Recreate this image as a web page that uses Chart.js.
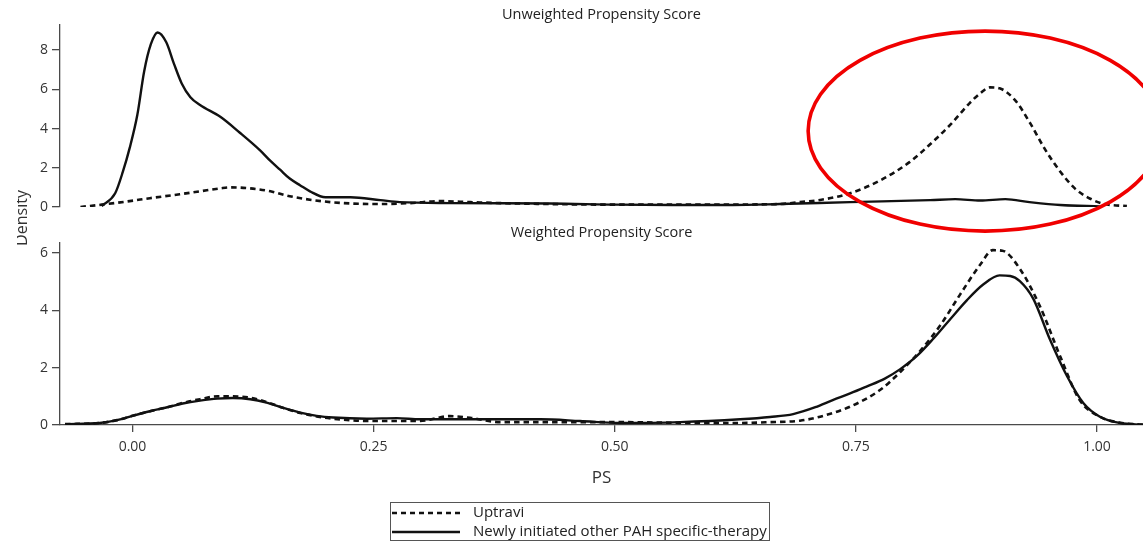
<!DOCTYPE html>
<html>
<head>
<meta charset="utf-8">
<script src="https://cdn.jsdelivr.net/npm/chart.js@4.4.1/dist/chart.umd.min.js"></script>
<style>
  html, body { margin: 0; padding: 0; background: #fff; overflow: hidden; }
  #wrap { position: relative; width: 1143px; height: 541px; background: #fff; }
  #wrap canvas { position: absolute; left: 0; top: 0; }
</style>
</head>
<body>
<div id="wrap">
  <canvas id="unweighted" width="1143" height="541"></canvas>
  <canvas id="weighted" width="1143" height="541"></canvas>
</div>
<script>
// ---- labels ----
const panelTitles = ['Unweighted Propensity Score', 'Weighted Propensity Score'];
const seriesNames = ['Uptravi', 'Newly initiated other PAH specific-therapy'];
const yAxisTitle = 'Density';
const xAxisTitle = 'PS';
const xTickValues = [0, 0.25, 0.5, 0.75, 1];
const xTickLabels = ['0.00', '0.25', '0.50', '0.75', '1.00'];
const unweightedYTicks = [0, 2, 4, 6, 8];
const weightedYTicks = [0, 2, 4, 6];

// ---- unweighted densities ----
const unweightedUptraviPS = [-0.054, -0.032, -0.003, 0.018, 0.049, 0.070, 0.091, 0.101, 0.122, 0.143, 0.163, 0.205, 0.257, 0.288, 0.319, 0.350, 0.381, 0.433, 0.501, 0.588, 0.671, 0.692, 0.713, 0.744, 0.775, 0.806, 0.827, 0.848, 0.868, 0.879, 0.889, 0.899, 0.915, 0.931, 0.946, 0.962, 0.977, 0.993, 1.008, 1.031];
const unweightedUptraviDensity = [0.0, 0.12, 0.3, 0.45, 0.65, 0.8, 0.95, 1.0, 0.95, 0.8, 0.55, 0.25, 0.15, 0.2, 0.3, 0.25, 0.2, 0.15, 0.12, 0.12, 0.15, 0.25, 0.36, 0.7, 1.35, 2.3, 3.2, 4.2, 5.3, 5.8, 6.1, 6.05, 5.45, 4.25, 2.95, 1.8, 0.95, 0.42, 0.15, 0.05];
const unweightedOtherPS = [-0.032, -0.018, -0.010, -0.003, 0.005, 0.012, 0.019, 0.026, 0.035, 0.043, 0.051, 0.060, 0.070, 0.091, 0.111, 0.132, 0.143, 0.153, 0.163, 0.174, 0.184, 0.200, 0.226, 0.257, 0.277, 0.329, 0.433, 0.501, 0.561, 0.622, 0.671, 0.744, 0.827, 0.853, 0.879, 0.905, 0.930, 0.962, 1.003];
const unweightedOtherDensity = [0.05, 0.7, 1.8, 3.0, 4.7, 6.9, 8.3, 8.9, 8.4, 7.3, 6.3, 5.6, 5.2, 4.6, 3.8, 2.9, 2.35, 1.9, 1.45, 1.1, 0.8, 0.5, 0.5, 0.35, 0.25, 0.2, 0.18, 0.12, 0.1, 0.1, 0.15, 0.25, 0.35, 0.4, 0.33, 0.4, 0.25, 0.1, 0.03];

// ---- weighted densities ----
const weightedUptraviPS = [-0.070, -0.034, -0.016, 0.001, 0.018, 0.036, 0.052, 0.070, 0.088, 0.104, 0.122, 0.139, 0.156, 0.174, 0.191, 0.208, 0.243, 0.274, 0.298, 0.329, 0.350, 0.381, 0.443, 0.505, 0.588, 0.630, 0.661, 0.692, 0.713, 0.744, 0.775, 0.796, 0.817, 0.837, 0.858, 0.879, 0.892, 0.902, 0.920, 0.941, 0.962, 0.982, 1.003, 1.024, 1.048];
const weightedUptraviDensity = [0.03, 0.07, 0.17, 0.33, 0.48, 0.62, 0.77, 0.9, 1.0, 1.0, 0.95, 0.8, 0.6, 0.42, 0.3, 0.22, 0.14, 0.14, 0.14, 0.31, 0.25, 0.1, 0.1, 0.1, 0.07, 0.07, 0.1, 0.15, 0.29, 0.64, 1.22, 1.85, 2.6, 3.45, 4.55, 5.6, 6.1, 6.08, 5.45, 4.13, 2.38, 0.87, 0.29, 0.08, 0.01];
const weightedOtherPS = [-0.070, -0.034, -0.016, 0.001, 0.018, 0.036, 0.052, 0.070, 0.088, 0.104, 0.122, 0.139, 0.156, 0.174, 0.191, 0.208, 0.243, 0.274, 0.298, 0.360, 0.423, 0.464, 0.505, 0.568, 0.630, 0.661, 0.685, 0.708, 0.726, 0.744, 0.761, 0.780, 0.796, 0.813, 0.830, 0.848, 0.865, 0.882, 0.899, 0.910, 0.920, 0.934, 0.951, 0.969, 0.986, 1.003, 1.024, 1.048];
const weightedOtherDensity = [0.03, 0.07, 0.17, 0.33, 0.48, 0.62, 0.75, 0.85, 0.92, 0.94, 0.9, 0.78, 0.6, 0.43, 0.32, 0.26, 0.22, 0.24, 0.2, 0.2, 0.2, 0.14, 0.07, 0.1, 0.2, 0.28, 0.38, 0.62, 0.87, 1.1, 1.34, 1.62, 1.95, 2.4, 3.0, 3.7, 4.35, 4.9, 5.22, 5.2, 5.02, 4.4, 3.0, 1.7, 0.76, 0.29, 0.07, 0.01];

// ---- shared scale ranges ----
const psMin = -0.0752, psMax = 1.0477;
const unweightedMax = 9.28, weightedMax = 6.35;

// highlighted region on the unweighted panel, in data units
const highlight = { ps: 0.884, density: 3.87, psRadius: 0.1835, densityRadius: 5.1 };

const FONT = "'Open Sans', 'DejaVu Sans', sans-serif";
Chart.defaults.font.family = FONT;
Chart.defaults.color = '#333';

const INK = '#111';
const AXIS = '#4a4a4a';

function points(xs, ys) {
  return xs.map((x, i) => ({ x, y: ys[i] }));
}

function densityLine(label, xs, ys, dashed) {
  return {
    label,
    data: points(xs, ys),
    borderColor: INK,
    backgroundColor: INK,
    borderWidth: dashed ? 2.6 : 2.4,
    borderDash: dashed ? [5.5, 4] : [],
    pointRadius: 0,
    pointHoverRadius: 0,
    cubicInterpolationMode: 'monotone',
    fill: false
  };
}

function densityAxis(max, tickValues) {
  return {
    type: 'linear',
    min: 0,
    max,
    afterBuildTicks: s => { s.ticks = tickValues.map(v => ({ value: v })); },
    afterFit: s => { s.width = 60; },
    border: { display: true, color: AXIS, width: 1.3 },
    grid: { drawOnChartArea: false, drawTicks: true, tickLength: 8, color: AXIS, lineWidth: 1.3 },
    ticks: { padding: 4, font: { size: 14 }, color: '#333' }
  };
}

function panelTitle(text, padTop, padBottom) {
  return {
    display: true,
    text,
    fullSize: false,
    color: '#222',
    font: { size: 14.5, weight: 'normal' },
    padding: { top: padTop, bottom: padBottom }
  };
}

// red ellipse drawn around the right-hand peak of the unweighted panel
const highlightPlugin = {
  id: 'highlightRing',
  afterDraw(chart) {
    const { ctx, scales: { x, y } } = chart;
    const cx = x.getPixelForValue(highlight.ps);
    const cy = y.getPixelForValue(highlight.density);
    const rx = x.getPixelForValue(highlight.ps + highlight.psRadius) - cx;
    const ry = cy - y.getPixelForValue(highlight.density + highlight.densityRadius);
    ctx.save();
    ctx.beginPath();
    ctx.ellipse(cx, cy, rx, ry, 0, 0, Math.PI * 2);
    ctx.strokeStyle = '#f00000';
    ctx.lineWidth = 3.6;
    ctx.stroke();
    ctx.restore();
  }
};

// shared y title and the boxed key under the weighted panel
const keyPlugin = {
  id: 'keyBox',
  afterDraw(chart) {
    const { ctx } = chart;
    ctx.save();
    // "Density" title between the panels
    ctx.save();
    ctx.beginPath();
    ctx.rect(17, 150, 40, 140);
    ctx.clip();
    ctx.translate(22.5, 218);
    ctx.rotate(-Math.PI / 2);
    ctx.font = '16px ' + FONT;
    ctx.fillStyle = '#333';
    ctx.textAlign = 'center';
    ctx.textBaseline = 'middle';
    ctx.fillText(yAxisTitle, 0, 0);
    ctx.restore();

    // key box
    const left = 390, top = 502, width = 379, height = 38;
    ctx.strokeStyle = '#555';
    ctx.lineWidth = 1;
    ctx.strokeRect(left + 0.5, top + 0.5, width, height);

    const rows = [
      { text: seriesNames[0], dashed: true, y: 513 },
      { text: seriesNames[1], dashed: false, y: 532 }
    ];
    ctx.font = '15px ' + FONT;
    ctx.textAlign = 'left';
    ctx.textBaseline = 'middle';
    for (const r of rows) {
      ctx.beginPath();
      ctx.setLineDash(r.dashed ? [5, 4] : []);
      ctx.strokeStyle = INK;
      ctx.lineWidth = 2.4;
      ctx.moveTo(392, r.y);
      ctx.lineTo(460, r.y);
      ctx.stroke();
      ctx.setLineDash([]);
      ctx.fillStyle = '#222';
      ctx.fillText(r.text, 473, r.y);
    }
    ctx.restore();
  }
};

// ---- unweighted panel ----
new Chart(document.getElementById('unweighted'), {
  type: 'line',
  data: {
    datasets: [
      densityLine(seriesNames[0], unweightedUptraviPS, unweightedUptraviDensity, true),
      densityLine(seriesNames[1], unweightedOtherPS, unweightedOtherDensity, false)
    ]
  },
  options: {
    responsive: false,
    animation: false,
    events: [],
    layout: { padding: { left: 0, right: 0, top: 0, bottom: 334 } },
    plugins: {
      legend: { display: false },
      tooltip: { enabled: false },
      title: panelTitle(panelTitles[0], 6.3, 1.3)
    },
    scales: {
      x: { type: 'linear', min: psMin, max: psMax, display: false },
      y: densityAxis(unweightedMax, unweightedYTicks)
    }
  },
  plugins: [highlightPlugin]
});

// ---- weighted panel ----
new Chart(document.getElementById('weighted'), {
  type: 'line',
  data: {
    datasets: [
      densityLine(seriesNames[0], weightedUptraviPS, weightedUptraviDensity, true),
      densityLine(seriesNames[1], weightedOtherPS, weightedOtherDensity, false)
    ]
  },
  options: {
    responsive: false,
    animation: false,
    events: [],
    layout: { padding: { left: 0, right: 0, top: 222.3, bottom: 36 } },
    plugins: {
      legend: { display: false },
      tooltip: { enabled: false },
      title: panelTitle(panelTitles[1], 2, 1.3)
    },
    scales: {
      x: {
        type: 'linear',
        min: psMin,
        max: psMax,
        position: 'bottom',
        afterBuildTicks: s => { s.ticks = xTickValues.map(v => ({ value: v })); },
        afterFit: s => { s.height = 80; },
        border: { display: true, color: AXIS, width: 1.3 },
        grid: { drawOnChartArea: false, drawTicks: true, tickLength: 7, color: AXIS, lineWidth: 1.3 },
        ticks: {
          padding: 6.6,
          font: { size: 14 },
          color: '#333',
          maxRotation: 0,
          autoSkip: false,
          callback: (v, i) => xTickLabels[i]
        },
        title: {
          display: true,
          text: xAxisTitle,
          color: '#333',
          font: { size: 17 },
          padding: { top: 0, bottom: 16.8 }
        }
      },
      y: densityAxis(weightedMax, weightedYTicks)
    }
  },
  plugins: [keyPlugin]
});
</script>
</body>
</html>
